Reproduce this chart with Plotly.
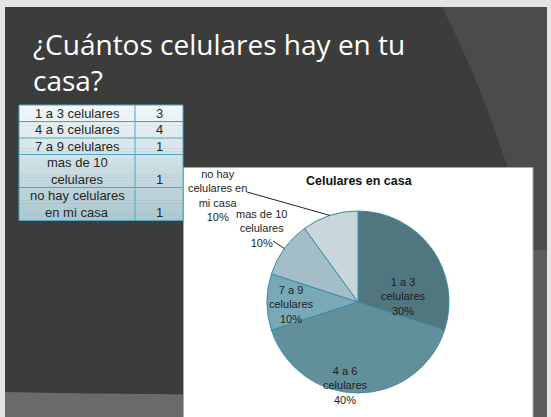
import math
import textwrap
import plotly.graph_objects as go

# ---- data -------------------------------------------------------------
categories = [
    "1 a 3 celulares",
    "4 a 6 celulares",
    "7 a 9 celulares",
    "mas de 10 celulares",
    "no hay celulares en mi casa",
]
counts = [3, 4, 1, 1, 1]
slide_title = "¿Cuántos celulares hay en tu<br>casa?"
chart_title = "Celulares en casa"

# ---- styling ----------------------------------------------------------
W, H = 551, 417
slice_colors = ["#52767f", "#62909a", "#79a9b6", "#a4bec7", "#c9d7dc"]
FONT = "Liberation Sans, Arial, sans-serif"
TITLE_FONT = "Open Sans, Liberation Sans, sans-serif"

# pie geometry in pixels
PIE_CX, PIE_CY, PIE_R = 358, 302, 91
# label anchors (pixels) and leader start points for outside labels
label_xy = [(403, 296), (345, 385), (291, 304), (261, 228), (217, 195)]
leader_start = {3: (273, 241), 4: (247, 192)}

# table geometry in pixels
TAB_X0, TAB_XS, TAB_X1 = 19, 135, 183
TAB_Y0 = 105
ROW_LINE_H = 16.5


def fx(x):
    return x / W


def fy(y):
    return 1 - y / H


def mix(c0, c1, t):
    a = [int(c0[i:i + 2], 16) for i in (1, 3, 5)]
    b = [int(c1[i:i + 2], 16) for i in (1, 3, 5)]
    return "#" + "".join(f"{round(p + (q - p) * t):02x}" for p, q in zip(a, b))


fig = go.Figure()

# invisible cartesian layer used as a pixel grid for the slide decoration
fig.add_trace(go.Scatter(x=[0, W], y=[0, H], mode="markers",
                         marker=dict(opacity=0), hoverinfo="skip",
                         showlegend=False))

# ---- pie --------------------------------------------------------------
fig.add_trace(go.Pie(
    labels=categories,
    values=counts,
    sort=False,
    direction="clockwise",
    rotation=0,
    textinfo="none",
    hoverinfo="label+percent",
    marker=dict(colors=slice_colors, line=dict(color="#3a8ba4", width=1)),
    domain=dict(x=[fx(PIE_CX - PIE_R), fx(PIE_CX + PIE_R)],
                y=[fy(PIE_CY + PIE_R), fy(PIE_CY - PIE_R)]),
    showlegend=False,
))

total = sum(counts)
annotations = []
shapes = []

# slide background, light curve on the right and lighter floor band
shapes.append(dict(type="rect", xref="x", yref="y", x0=5, x1=547, y0=7, y1=H,
                   fillcolor="#3c3c3c", line=dict(width=0), layer="below"))
shapes.append(dict(type="path", xref="x", yref="y",
                   path="M 442,7 Q 515,150 547,330 L 547,7 Z",
                   fillcolor="#4b4b4b", line=dict(width=0), layer="below"))
shapes.append(dict(type="path", xref="x", yref="y",
                   path="M 5,392 Q 200,396 547,395 L 547,417 L 5,417 Z",
                   fillcolor="#6a6a6a", line=dict(width=0), layer="below"))
shapes.append(dict(type="rect", xref="x", yref="y", x0=533, x1=547, y0=250,
                   y1=417, fillcolor="#5c5c5c", line=dict(width=0),
                   layer="below"))
# chart area
shapes.append(dict(type="rect", xref="x", yref="y", x0=183.5, x1=533, y0=167.5,
                   y1=420, fillcolor="#ffffff",
                   line=dict(color="#a8a8a8", width=1), layer="below"))

# ---- table (cells drawn as shapes, values as text) --------------------
row_lines = [textwrap.wrap(c, 16) for c in categories]
row_edges = [TAB_Y0]
for lines in row_lines:
    row_edges.append(row_edges[-1] + ROW_LINE_H * len(lines))
tab_y1 = row_edges[-1]

# vertical gradient fill
n_strips = 40
for k in range(n_strips):
    y0 = TAB_Y0 + (tab_y1 - TAB_Y0) * k / n_strips
    y1 = TAB_Y0 + (tab_y1 - TAB_Y0) * (k + 1) / n_strips
    shapes.append(dict(type="rect", xref="x", yref="y", x0=TAB_X0, x1=TAB_X1,
                       y0=y0, y1=y1 + 0.5,
                       fillcolor=mix("#f1f7f9", "#abc7d0", k / (n_strips - 1)),
                       line=dict(width=0), layer="below"))
grid = dict(color="#4ea6c2", width=1)
for y in row_edges:
    shapes.append(dict(type="line", xref="x", yref="y", x0=TAB_X0, x1=TAB_X1,
                       y0=y, y1=y, line=grid))
for x in (TAB_X0, TAB_XS, TAB_X1):
    shapes.append(dict(type="line", xref="x", yref="y", x0=x, x1=x,
                       y0=TAB_Y0, y1=tab_y1, line=grid))

for i, (lines, v) in enumerate(zip(row_lines, counts)):
    for j, line in enumerate(lines):
        yc = row_edges[i] + ROW_LINE_H * (j + 0.5)
        annotations.append(dict(
            text=line, x=fx((TAB_X0 + TAB_XS) / 2), y=fy(yc), xref="paper",
            yref="paper", xanchor="center", yanchor="middle", showarrow=False,
            font=dict(family=FONT, size=13, color="#262626"),
        ))
    yv = row_edges[i] + ROW_LINE_H * (len(lines) - 0.5)
    annotations.append(dict(
        text=str(v), x=fx((TAB_XS + TAB_X1) / 2), y=fy(yv), xref="paper",
        yref="paper", xanchor="center", yanchor="middle", showarrow=False,
        font=dict(family=FONT, size=13, color="#262626"),
    ))

# slide title
annotations.append(dict(
    text=slide_title, x=fx(31), y=fy(23), xref="paper", yref="paper",
    xanchor="left", yanchor="top", align="left", showarrow=False,
    font=dict(family=TITLE_FONT, size=28, color="#ffffff"),
))
# chart title
annotations.append(dict(
    text=f"<b>{chart_title}</b>", x=fx(359), y=fy(181), xref="paper",
    yref="paper", xanchor="center", yanchor="middle", showarrow=False,
    font=dict(family=FONT, size=12.5, color="#111111"),
))

# data labels and leader lines
start = 0.0
for i, (cat, v) in enumerate(zip(categories, counts)):
    pct = round(100 * v / total)
    lab = "<br>".join(textwrap.wrap(cat, 12)) + f"<br>{pct}%"
    lx, ly = label_xy[i]
    annotations.append(dict(
        text=lab, x=fx(lx), y=fy(ly), xref="paper", yref="paper",
        xanchor="center", yanchor="middle", showarrow=False,
        font=dict(family=FONT, size=11, color="#1e1e1e"),
    ))
    mid = (start + v / total / 2) * 2 * math.pi
    if i in leader_start:
        ex = PIE_CX + PIE_R * math.sin(mid)
        ey = PIE_CY - PIE_R * math.cos(mid)
        sx, sy = leader_start[i]
        shapes.append(dict(type="line", xref="x", yref="y", x0=sx, y0=sy,
                           x1=ex, y1=ey, line=dict(color="#222222", width=1)))
    start += v / total

fig.update_layout(
    width=W, height=H,
    margin=dict(l=0, r=0, t=0, b=0),
    paper_bgcolor="#e4e4e4",
    plot_bgcolor="rgba(0,0,0,0)",
    xaxis=dict(range=[0, W], visible=False, fixedrange=True),
    yaxis=dict(range=[H, 0], visible=False, fixedrange=True),
    shapes=shapes,
    annotations=annotations,
    showlegend=False,
)

fig.write_html("out.html")
